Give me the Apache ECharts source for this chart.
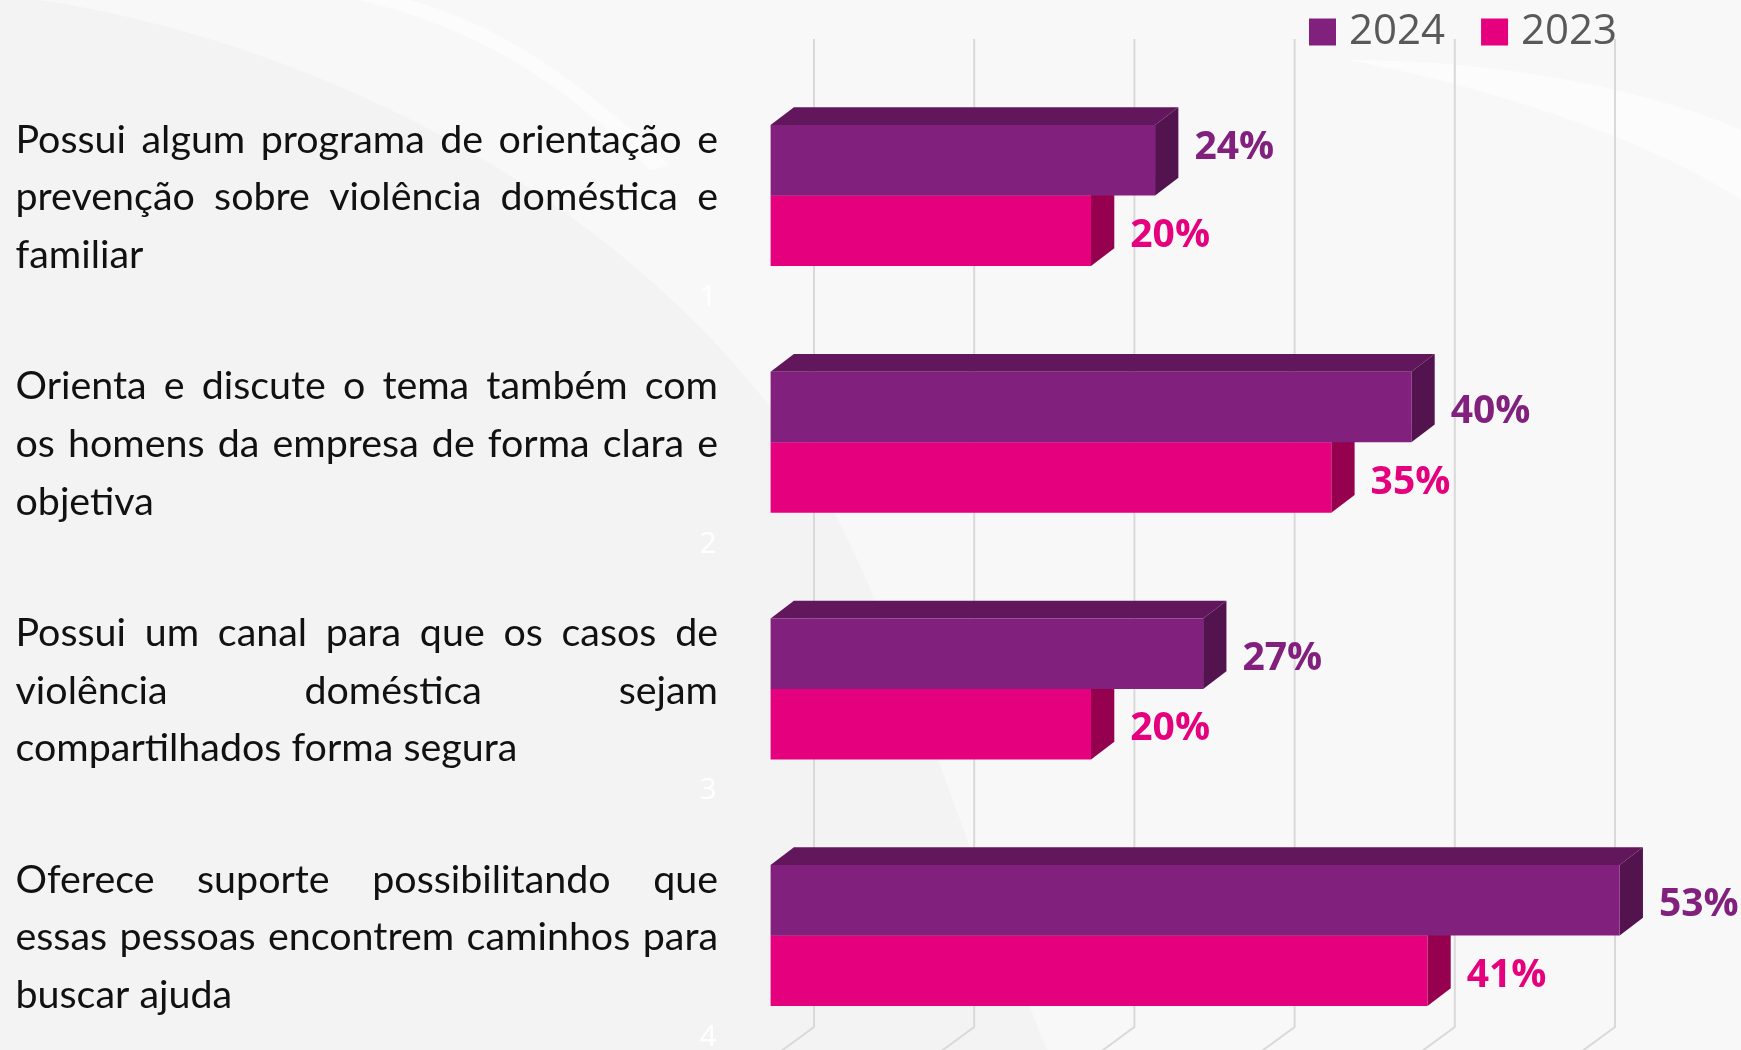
<!DOCTYPE html>
<html>
<head>
<meta charset="utf-8">
<script src="https://cdn.jsdelivr.net/npm/echarts@6/dist/echarts.min.js"></script>
<style>
html,body{margin:0;padding:0;background:#f3f3f3;overflow:hidden;}
#c{width:1741px;height:1200px;}
</style>
</head>
<body>
<div id="c"></div>
<script>
// ---------------- data ----------------
const seriesNames = ['2024', '2023'];
const values2024 = [24, 40, 27, 53];
const values2023 = [20, 35, 20, 41];
const axisTickLabels = ['1', '2', '3', '4'];
const gridTicks = [0, 10, 20, 30, 40, 50];
const categoryLines = [
  ['Possui algum programa de orientação e', 'prevenção sobre violência doméstica e', 'familiar'],
  ['Orienta e discute o tema também com', 'os homens da empresa de forma clara e', 'objetiva'],
  ['Possui um canal para que os casos de', 'violência doméstica sejam', 'compartilhados forma segura'],
  ['Oferece suporte possibilitando que', 'essas pessoas encontrem caminhos para', 'buscar ajuda']
];

// ---------------- styles ----------------
const COL = {
  purple: '#82207E', purpleTop: '#62175D', purpleSide: '#52134E',
  pink: '#E5007D', pinkTop: '#B0005F', pinkSide: '#95004F'
};
const BAR_RATIO = 0.2858;   // bar thickness relative to band
const DEPTH_X = 23.3, DEPTH_Y = 17.7;
const LABEL_FONT = 'Open Sans';
const TEXT_FONT = 'Lato';

// decorative background swooshes (cubic bezier sampled into polygons)
function bez(p0, p1, p2, p3, n) {
  const pts = [];
  for (let i = 0; i <= n; i++) {
    const t = i / n, u = 1 - t;
    pts.push([
      u*u*u*p0[0] + 3*u*u*t*p1[0] + 3*u*t*t*p2[0] + t*t*t*p3[0],
      u*u*u*p0[1] + 3*u*u*t*p1[1] + 3*u*t*t*p2[1] + t*t*t*p3[1]
    ]);
  }
  return pts;
}
const bgShapes = [
  {type: 'polygon', z: -10, silent: true,
    shape: {points: bez([40,0],[300,40],[600,180],[780,420],30).concat(bez([780,420],[900,600],[960,850],[1060,1080],30)).concat([[1741,1080],[1741,0]])},
    style: {fill: '#f8f8f8'}},
  {type: 'polygon', z: -9, silent: true,
    shape: {points: bez([360,0],[480,30],[560,80],[650,170],20).concat(bez([670,165],[580,80],[500,25],[410,0],20))},
    style: {fill: '#fcfcfc'}},
  {type: 'polygon', z: -9, silent: true,
    shape: {points: bez([1350,60],[1500,90],[1650,140],[1741,200],20).concat([[1741,130]]).concat(bez([1741,130],[1650,90],[1500,60],[1350,60],20))},
    style: {fill: '#fcfcfc'}}
];

const chart = echarts.init(document.getElementById('c'), null, {renderer: 'canvas'});

function barRenderer(upper, front, top, side) {
  return function (params, api) {
    const v = api.value(0), cat = api.value(1);
    const p0 = api.coord([0, cat]);
    const p1 = api.coord([v, cat]);
    const band = api.size([0, 1])[1];
    const h = band * BAR_RATIO;
    const y0 = upper ? p0[1] - h : p0[1];
    const x0 = p0[0], x1 = p1[0];
    const nudge = (upper && params.dataIndex === 0) ? -17 : 0;
    return {
      type: 'group',
      children: [
        {type: 'polygon', shape: {points: [[x0, y0], [x1, y0], [x1 + DEPTH_X, y0 - DEPTH_Y], [x0 + DEPTH_X, y0 - DEPTH_Y]]},
          style: {fill: top}},
        {type: 'polygon', shape: {points: [[x1, y0], [x1 + DEPTH_X, y0 - DEPTH_Y], [x1 + DEPTH_X, y0 + h - DEPTH_Y], [x1, y0 + h]]},
          style: {fill: side}},
        {type: 'rect', shape: {x: x0, y: y0, width: x1 - x0, height: h}, style: {fill: front}},
        {type: 'text', x: x1 + DEPTH_X + 16, y: y0 + h / 2 + 5 + nudge,
          style: {text: v + '%', fill: front, fontFamily: LABEL_FONT, fontWeight: 'bold', fontSize: 39,
            align: 'left', verticalAlign: 'middle'}}
      ]
    };
  };
}

const option = {
  backgroundColor: '#f3f3f3',
  animation: false,
  legend: {
    data: seriesNames,
    left: 1309, top: 11, padding: 0,
    icon: 'rect', itemWidth: 27, itemHeight: 27, itemGap: 36,
    textStyle: {fontFamily: LABEL_FONT, fontSize: 42, color: '#595959', padding: [0, 0, 0, 8]}
  },
  grid: [
    {left: 770.6, top: 72.2, width: 961.2, height: 986.7},
    {left: 814, top: 39, width: 801, height: 988},
    {left: 770.6, top: 174.2, width: 961.2, height: 986.7}
  ],
  xAxis: [
    {type: 'value', gridIndex: 0, min: 0, max: 60, show: false},
    {type: 'value', gridIndex: 1, min: 0, max: 50, interval: 10, show: false},
    {type: 'value', gridIndex: 2, min: 0, max: 60, show: false}
  ],
  yAxis: [
    {type: 'category', gridIndex: 0, inverse: true, data: axisTickLabels, show: false},
    {type: 'value', gridIndex: 1, min: 0, max: 1, show: false},
    {type: 'category', gridIndex: 2, inverse: true, data: axisTickLabels,
      axisLine: {show: false}, axisTick: {show: false}, splitLine: {show: false},
      axisLabel: {color: '#ffffff', fontSize: 30, fontFamily: LABEL_FONT, margin: 54}}
  ],
  graphic: bgShapes,
  series: [
    {
      type: 'custom', name: 'grid', xAxisIndex: 1, yAxisIndex: 1, silent: true, z: 1,
      data: gridTicks.map(t => [t]), encode: {x: 0},
      renderItem: function (params, api) {
        const x = api.coord([api.value(0), 0])[0];
        const cs = params.coordSys;
        const yb = cs.y + cs.height;
        return {type: 'polyline', shape: {points: [[x, cs.y], [x, yb], [x - 45, yb + 33]]},
          style: {stroke: '#d9d9d9', lineWidth: 2, fill: null}};
      }
    },
    {
      type: 'custom', name: seriesNames[1], xAxisIndex: 0, yAxisIndex: 0, z: 2,
      itemStyle: {color: COL.pink},
      data: values2023.map((v, i) => [v, i]), encode: {x: 0, y: 1},
      renderItem: barRenderer(false, COL.pink, COL.pinkTop, COL.pinkSide)
    },
    {
      type: 'custom', name: seriesNames[0], xAxisIndex: 0, yAxisIndex: 0, z: 3,
      itemStyle: {color: COL.purple},
      data: values2024.map((v, i) => [v, i]), encode: {x: 0, y: 1},
      renderItem: barRenderer(true, COL.purple, COL.purpleTop, COL.purpleSide)
    }
  ]
};
chart.setOption(option);

// ---------------- left paragraph texts (justified) ----------------
const TEXT_LEFT = 15.5, TEXT_RIGHT = 718, LINE_GAP = 57.7;
const ctx = document.createElement('canvas').getContext('2d');
function measure(s, fs) { ctx.font = fs + 'px ' + TEXT_FONT; return ctx.measureText(s).width; }
let fs = 37;
fs = Math.min(40, fs * 502 / measure('compartilhados forma segura', fs));

const textEls = [];
categoryLines.forEach((lines, ci) => {
  const cy = chart.convertToPixel({gridIndex: 0}, [0, ci])[1] + 2;
  lines.forEach((line, li) => {
    const y = cy + (li - (lines.length - 1) / 2) * LINE_GAP;
    const justify = li < lines.length - 1;
    const words = line.split(' ');
    if (!justify || words.length < 2) {
      textEls.push({type: 'text', x: TEXT_LEFT, y: y, z: 50,
        style: {text: line, fill: '#111', fontFamily: TEXT_FONT, fontSize: fs, align: 'left', verticalAlign: 'middle'}});
      return;
    }
    const widths = words.map(w => measure(w, fs));
    const total = widths.reduce((a, b) => a + b, 0);
    const gap = (TEXT_RIGHT - TEXT_LEFT - total) / (words.length - 1);
    let x = TEXT_LEFT;
    words.forEach((w, wi) => {
      textEls.push({type: 'text', x: x, y: y, z: 50,
        style: {text: w, fill: '#111', fontFamily: TEXT_FONT, fontSize: fs, align: 'left', verticalAlign: 'middle'}});
      x += widths[wi] + gap;
    });
  });
});
chart.setOption({graphic: bgShapes.concat(textEls)});
</script>
</body>
</html>
